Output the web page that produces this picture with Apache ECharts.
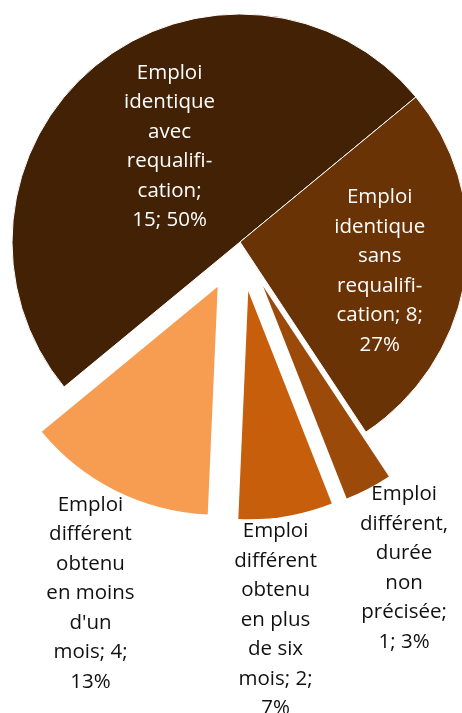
<!DOCTYPE html>
<html>
<head>
<meta charset="utf-8">
<script src="https://cdn.jsdelivr.net/npm/echarts@6/dist/echarts.min.js"></script>
<style>
  html, body { margin: 0; padding: 0; background: #fff; }
  #chart { width: 462px; height: 713px; }
</style>
</head>
<body>
<div id="chart"></div>
<script>
  // categories, in clockwise order from the lower-left edge of the big slice
  const categories = [
    'Emploi identique avec requalification',
    'Emploi identique sans requalification',
    'Emploi différent, durée non précisée',
    'Emploi différent obtenu en plus de six mois',
    "Emploi différent obtenu en moins d'un mois",
  ]
  const values = [15, 8, 1, 2, 4]
  // label wrapping as in the original, {c} = value, {d} = percent
  const labelTemplates = [
    'Emploi\nidentique\navec\nrequalifi-\ncation;\n{c}; {d}%',
    'Emploi\nidentique\nsans\nrequalifi-\ncation; {c};\n{d}%',
    'Emploi\ndifférent,\ndurée\nnon\nprécisée;\n{c}; {d}%',
    'Emploi\ndifférent\nobtenu\nen plus\nde six\nmois; {c};\n{d}%',
    "Emploi\ndifférent\nobtenu\nen moins\nd'un\nmois; {c};\n{d}%",
  ]
  const exploded = [false, false, true, true, true]

  const colors = ['#432105', '#6a3306', '#9c4a09', '#c65e0c', '#f69d51']
  const labelColors = ['#ffffff', '#ffffff', '#111111', '#111111', '#111111']
  // nudges of each label from its default inside position
  const labelShift = [
    [4, -5],
    [24, 12],
    [87, 178],
    [8, 213],
    [-75, 202],
  ]

  const chart = echarts.init(document.getElementById('chart'))

  const option = {
    animation: false,
    series: [
      {
        type: 'pie',
        center: [240, 242],
        radius: 228,
        startAngle: 219.5,
        clockwise: true,
        percentPrecision: 0,
        selectedMode: 'multiple',
        selectedOffset: 50,
        emphasis: { disabled: true },
        labelLine: { show: false },
        label: {
          position: 'inside',
          fontFamily: 'Open Sans',
          fontSize: 20.5,
          lineHeight: 29.5,
          align: 'center',
        },
        labelLayout: (params) => ({
          dx: labelShift[params.dataIndex][0],
          dy: labelShift[params.dataIndex][1],
        }),
        data: categories.map((name, i) => ({
          name,
          value: values[i],
          selected: exploded[i],
          itemStyle: {
            color: colors[i],
            borderColor: '#ffffff',
            borderWidth: i < 2 ? 1 : 0,
          },
          label: {
            formatter: labelTemplates[i],
            color: labelColors[i],
          },
        })),
      },
    ],
  }

  chart.setOption(option)
</script>
</body>
</html>
